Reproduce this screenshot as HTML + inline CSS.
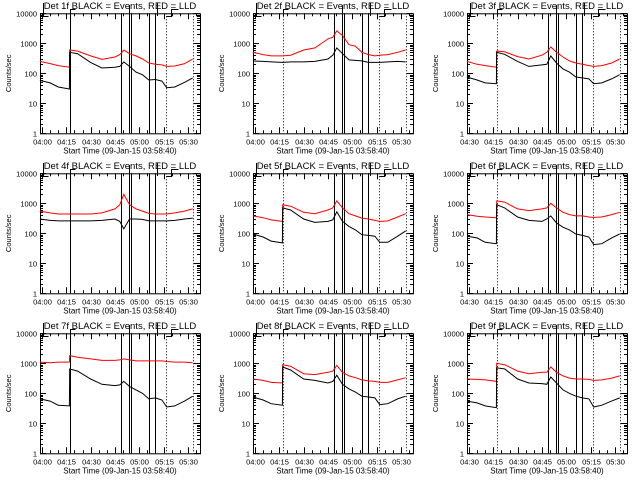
<!DOCTYPE html>
<html><head><meta charset="utf-8"><style>
html,body{margin:0;padding:0;background:#fff;}
svg{display:block;}
text{font-family:"Liberation Sans",sans-serif;fill:#000;}
</style></head><body>
<svg id="chart" width="640" height="480" viewBox="0 0 640 480" xmlns="http://www.w3.org/2000/svg"></svg>
<script>
const times=[-1.3,5,10,16.9,17.1,22,30,37,45,48,50.5,54,58,62,66,70,74,77,82,88,93];
const detNames=["1f","2f","3f","4f","5f","6f","7f","8f","9f"];
const red1=[250,210,180,160,600,550,380,290,350,420,600,450,380,300,220,200,190,170,175,210,300];
const blk1=[58,48,35,30,500,450,230,150,160,170,240,170,110,90,60,62,55,33,35,50,70];
const red2=[500,420,380,380,380,400,600,700,1400,1600,2600,1800,900,800,500,420,380,400,420,500,600];
const blk2=[260,250,240,230,230,240,240,250,300,400,700,450,280,270,260,230,230,230,240,250,240];
const red3=[250,200,180,160,550,520,360,300,400,500,750,500,350,260,220,200,180,170,180,220,300];
const blk3=[75,60,48,45,500,430,250,170,190,200,380,220,140,110,75,70,65,45,48,65,90];
const red4=[550,480,440,440,440,440,440,480,650,900,2000,900,650,550,460,440,440,440,480,550,650];
const blk4=[300,270,260,260,260,260,260,270,300,250,140,300,300,290,260,260,260,260,270,300,320];
const red5=[380,330,280,250,900,800,500,450,600,700,1200,700,450,380,320,300,270,250,260,350,450];
const blk5=[95,75,55,48,700,600,300,230,250,280,520,250,170,130,90,85,80,50,50,80,120];
const red6=[420,370,350,330,1200,1100,650,570,650,700,1000,700,500,420,380,380,350,340,350,420,500];
const blk6=[80,70,50,45,900,700,350,270,250,300,380,220,160,130,95,85,75,42,45,70,95];
const red7=[1100,1050,1100,1100,1800,1600,1400,1250,1250,1300,1400,1300,1200,1200,1200,1200,1200,1150,1100,1100,1050];
const blk7=[65,55,40,38,650,550,300,200,180,190,250,170,130,100,65,70,60,35,38,55,80];
const red8=[300,270,230,220,900,800,450,420,500,550,850,500,380,330,280,260,250,230,230,280,330];
const blk8=[75,60,45,40,750,600,300,270,220,250,400,200,140,110,80,75,70,42,45,65,80];
const red9=[300,290,280,250,1000,900,550,450,500,500,750,500,380,320,300,300,290,270,280,320,380];
const blk9=[55,48,38,33,700,650,300,220,210,200,350,220,130,100,80,70,65,35,40,55,70];
const reds=[red1,red2,red3,red4,red5,red6,red7,red8,red9];
const blks=[blk1,blk2,blk3,blk4,blk5,blk6,blk7,blk8,blk9];
const yTickVals=[1,10,100,1000,10000];
const yTickLabels=["1","10","100","1000","10000"];
const xTickMins=[0,15,30,45,60,75,90];
const xTickLabelsA=["04:00","04:15","04:30","04:45","05:00","05:15","05:30"];
const xTickLabelsC=["04:30","04:15","04:30","04:45","05:00","05:15","05:30"];
const solidLines=[48.6,53.7,54.8,66.2,70];
const dottedLines=[76.4,93.4];
const gapLine=17.3;

const NS="http://www.w3.org/2000/svg";
const svg=document.getElementById("chart");
function mk(tag,attrs,parent){const e=document.createElementNS(NS,tag);for(const k in attrs)e.setAttribute(k,attrs[k]);parent.appendChild(e);return e;}
const L=40,R=200,T=13.3,B=133.3;
function xs(t){return 42+t*1.62;}
function ys(v){return B-30*Math.log10(v);}

for(let p=0;p<9;p++){
  const col=p%3,row=Math.floor(p/3);
  const ox=[0,213,427][col],oy=row*160;
  const g=mk("g",{transform:`translate(${ox},${oy})`},svg);
  
  
  const fr=mk("rect",{x:L+0.5,y:T+0.5,width:R-L,height:B-T,fill:"none",stroke:"#000","stroke-width":1},g);
  
  
  yTickVals.forEach((v,i)=>{
    const y=Math.round(ys(v))+0.5;
    mk("line",{x1:L,x2:L+6,y1:y,y2:y,stroke:"#000"},g);
    mk("line",{x1:R-6,x2:R,y1:y,y2:y,stroke:"#000"},g);
    const tx=mk("text",{x:L-3,y:y+3,"text-anchor":"end","font-size":7.5},g);
    tx.textContent=yTickLabels[i];
    
    
    if(i<yTickVals.length-1){for(let m=2;m<10;m++){const ym=Math.round(ys(v*m))+0.5;
      mk("line",{x1:L,x2:L+3,y1:ym,y2:ym,stroke:"#000"},g);
      mk("line",{x1:R-3,x2:R,y1:ym,y2:ym,stroke:"#000"},g);}}
  });
  const labs=col===2?xTickLabelsC:xTickLabelsA;
  xTickMins.forEach((t,i)=>{
    const x=Math.round(xs(t))+0.5;
    mk("line",{x1:x,x2:x,y1:B,y2:B-6,stroke:"#000"},g);
    mk("line",{x1:x,x2:x,y1:T,y2:T+6,stroke:"#000"},g);
    const tx=mk("text",{x:x,y:B+11,"text-anchor":"middle","font-size":7.5},g);
    tx.textContent=labs[i];
    
    
  });
  for(let t=5;t<97;t+=5){if(t%15){const x=Math.round(xs(t))+0.5;
    mk("line",{x1:x,x2:x,y1:B,y2:B-3,stroke:"#000"},g);mk("line",{x1:x,x2:x,y1:T,y2:T+3,stroke:"#000"},g);}}
  solidLines.forEach(t=>{const x=Math.round(xs(t))+0.5;
    const l=mk("line",{x1:x,x2:x,y1:T,y2:B,stroke:"#000"},g);
    
    });
  dottedLines.forEach(t=>{const x=Math.round(xs(t))+0.5;
    const l=mk("line",{x1:x,x2:x,y1:T,y2:B,stroke:"#000","stroke-dasharray":"1,2"},g);
    
    });
  {const x=Math.round(xs(gapLine))+0.5;
   const l=mk("line",col===0?{x1:x,x2:x,y1:T,y2:B,stroke:"#000"}:{x1:x,x2:x,y1:T,y2:B,stroke:"#000","stroke-dasharray":"1,2"},g);
   
   }
  const bx=[L+3.5,Math.round(xs(gapLine))+0.5,Math.round(xs(76.4))+0.5,Math.round(xs(71))+0.5,Math.round(xs(54))+0.5];
  mk("path",{d:`M${bx[0]} 3V16.5H${bx[0]+5} M${bx[1]} 16V9.5H${bx[1]+5} M${bx[2]} 16.5H${bx[2]+5}V9.5H${bx[2]+12} M${bx[3]} 16V3 M${bx[4]} 16V5`,stroke:"#000",fill:"none"},g);
  function path(arr){return arr.map((v,i)=>(i?"L":"M")+xs(times[i]).toFixed(1)+" "+ys(v).toFixed(1)).join("");}
  const pr=mk("path",{d:path(reds[p]),stroke:"#ff0000",fill:"none","stroke-width":1},g);
  
  
  const pb=mk("path",{d:path(blks[p]),stroke:"#000",fill:"none","stroke-width":1},g);
  
  
  const ti=mk("text",{x:120,y:9,"text-anchor":"middle","font-size":9.5},g);
  ti.textContent="Det "+detNames[p]+" BLACK = Events, RED = LLD";
  
  
  const xt=mk("text",{x:120,y:B+20,"text-anchor":"middle","font-size":8},g);
  xt.textContent="Start Time (09-Jan-15 03:58:40)";
  
  
  const yt=mk("text",{x:0,y:0,"text-anchor":"middle","font-size":7.5,transform:`translate(11,${(T+B)/2}) rotate(-90)`},g);
  yt.textContent="Counts/sec";
  
  
}
</script>
</body></html>
